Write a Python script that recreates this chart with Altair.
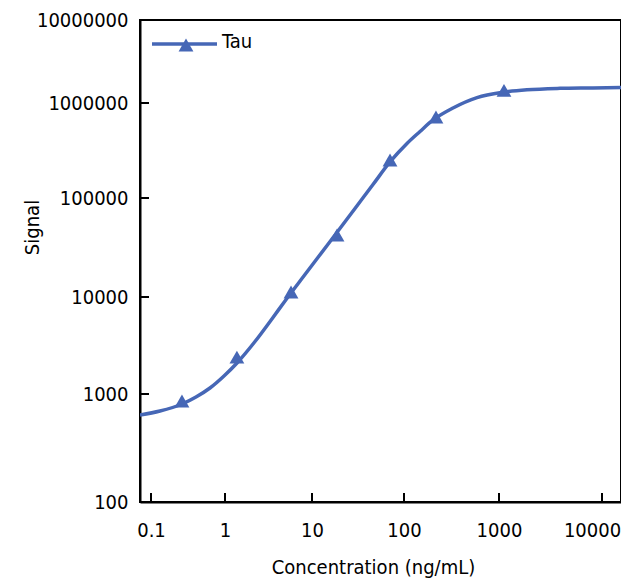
import altair as alt
import pandas as pd

series_name = "Tau"
x_title = "Concentration  (ng/mL)"
y_title = "Signal"

# fitted curve
curve_x = [0.071, 0.1323, 0.2624, 0.4055, 0.6266, 0.969, 1.374, 2.213, 3.562, 4.895,
           8.308, 16.49, 29.33, 46.03, 70.45, 107.5, 147.4, 202, 328, 587, 1094,
           1870, 3910, 8180, 15300]
curve_y = [639, 696, 808, 938, 1153, 1534, 2088, 3475, 6153, 9100,
           16870, 38530, 78340, 138700, 239400, 375000, 501200, 662600, 886200,
           1161000, 1346000, 1442000, 1501000, 1521000, 1542000]

# measured points (triangles)
point_x = [0.262, 1.37, 5.74, 18.7, 70.5, 217, 1118]
point_y = [861, 2404, 11230, 42270, 251200, 712000, 1420000]

x_ticks = [0.1, 1, 10, 100, 1000, 10000]
y_ticks = [100, 1000, 10000, 100000, 1000000, 10000000]
y_inner_ticks = [1000, 10000, 100000, 1000000]

color = "#4667B6"
font = "DejaVu Sans Condensed"
fs = 20

W, H = 481, 482

curve = pd.DataFrame({"x": curve_x, "y": curve_y, "series": series_name})
points = pd.DataFrame({"x": point_x, "y": point_y, "series": series_name})
xt = pd.DataFrame({"v": x_ticks})
yt = pd.DataFrame({"v": y_inner_ticks})
leg = pd.DataFrame({"series": [series_name]})

x_scale = alt.Scale(type="log",
                    domain=[0.071, 0.1, 1, 10, 100, 1000, 10000, 15300],
                    range=[0, 11, 85, 172, 264, 359, 462, 481], nice=False)
y_scale = alt.Scale(type="log",
                    domain=[100, 1000, 10000, 100000, 1000000, 10000000],
                    range=[482, 374, 277, 178, 83, 0], nice=False)

x_axis = alt.Axis(values=x_ticks, format="~r", title=x_title, ticks=False, grid=False,
                  labelPadding=18, titleX=233, titleY=71, titleBaseline="alphabetic",
                  labelFlush=False,
                  labelOffset={"condition": {"test": "datum.value >= 10000", "value": -10},
                               "value": 0})
y_axis = alt.Axis(values=y_ticks, format="~r", title=y_title, ticks=False, grid=False,
                  labelPadding=12, titleX=-108, titleY=207, titleBaseline="middle",
                  labelFlush=False)

line = alt.Chart(curve).mark_line(color=color, strokeWidth=3.5, interpolate="monotone",
                                  clip=True).encode(
    x=alt.X("x:Q", scale=x_scale, axis=x_axis),
    y=alt.Y("y:Q", scale=y_scale, axis=y_axis),
)

pts = alt.Chart(points).mark_point(shape="triangle-up", filled=True, color=color,
                                   size=220, opacity=1).encode(
    x=alt.X("x:Q", scale=x_scale),
    y=alt.Y("y:Q", scale=y_scale),
)

xtick = alt.Chart(xt).mark_rule(color="black", strokeWidth=2).encode(
    x=alt.X("v:Q", scale=x_scale),
    y=alt.value(H - 9), y2=alt.value(H),
)
ytick = alt.Chart(yt).mark_rule(color="black", strokeWidth=2).encode(
    y=alt.Y("v:Q", scale=y_scale),
    x=alt.value(0), x2=alt.value(9),
)

leg_line = alt.Chart(leg).mark_rule(color=color, strokeWidth=3.5).encode(
    x=alt.value(12), x2=alt.value(77), y=alt.value(24))
leg_pt = alt.Chart(leg).mark_point(shape="triangle-up", filled=True, color=color,
                                   size=220, opacity=1).encode(
    x=alt.value(46), y=alt.value(25))
leg_txt = alt.Chart(leg).mark_text(align="left", baseline="middle", font=font,
                                   fontSize=fs, color="black").encode(
    x=alt.value(82), y=alt.value(22), text="series:N")

chart = alt.layer(line, pts, xtick, ytick, leg_line, leg_pt, leg_txt).properties(
    width=W, height=H,
    autosize=alt.AutoSizeParams(type="none"),
    padding={"left": 132, "top": 12, "right": 0, "bottom": 76},
).configure_view(stroke="black", strokeWidth=2).configure_axis(
    domainColor="black", domainWidth=2, labelFont=font, titleFont=font,
    labelFontSize=fs, titleFontSize=fs, labelColor="black", titleColor="black",
    titleFontWeight="normal",
)

chart.save("out.html", embed_options={"renderer": "svg", "actions": False})
